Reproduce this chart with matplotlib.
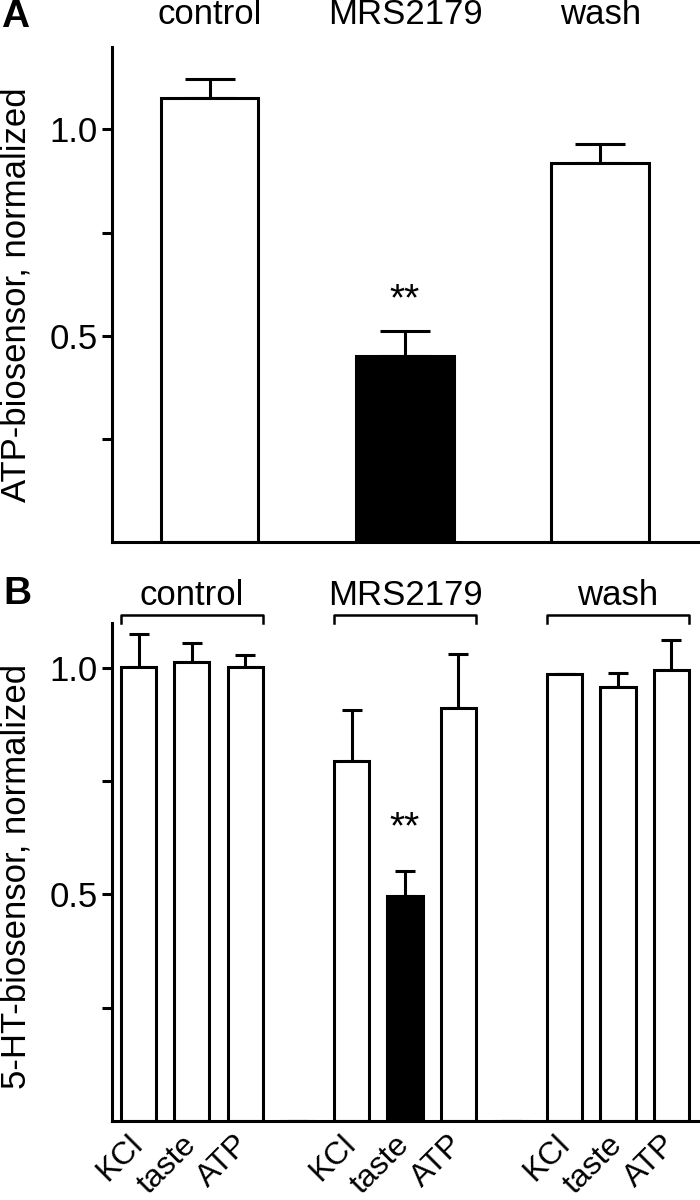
import matplotlib
matplotlib.use("Agg")
import matplotlib.pyplot as plt
from matplotlib.ticker import FixedLocator
import numpy as np

plt.rcParams['font.family'] = ['Liberation Sans', 'DejaVu Sans']

# ---- Panel A data ----
a_groups = ["control", "MRS2179", "wash"]
a_values = [1.077, 0.452, 0.919]
a_errors = [0.045, 0.060, 0.045]
a_colors = ["white", "black", "white"]

# ---- Panel B data ----
b_groups = ["control", "MRS2179", "wash"]
b_labels = ["KCl", "taste", "ATP", "", "KCl", "taste", "ATP", "", "KCl", "taste", "ATP"]
b_values = [1.002, 1.013, 1.002, 0.0, 0.795, 0.496, 0.912, 0.0, 0.987, 0.958, 0.996]
b_errors = [0.073, 0.042, 0.027, 0.0, 0.112, 0.055, 0.119, 0.0, 0.0, 0.031, 0.066]
b_colors = ["white", "white", "white", "white", "white", "black", "white", "white",
            "white", "white", "white"]
b_group_members = [[0, 1, 2], [4, 5, 6], [8, 9, 10]]

FS = 25
LW = 2.2

fig = plt.figure(figsize=(7, 12), dpi=100)
axA = fig.add_axes([0.16, 0.548, 0.837, 0.413])
axB = fig.add_axes([0.16, 0.066, 0.837, 0.415])

for ax in (axA, axB):
    for s in ("top", "right"):
        ax.spines[s].set_visible(False)
    for s in ("left", "bottom"):
        ax.spines[s].set_linewidth(LW)
    ax.tick_params(axis="y", which="both", direction="out", length=7, width=LW,
                   labelsize=FS, pad=3)

# ---- Panel A ----
xa = np.arange(len(a_values))
axA.bar(xa, a_values, width=0.5, color=a_colors, edgecolor="black", linewidth=LW, zorder=2)
axA.errorbar(xa, a_values, yerr=[np.zeros(len(a_errors)), a_errors], fmt="none",
             ecolor="black", elinewidth=LW, capsize=18, capthick=LW, zorder=1)
axA.set_xlim(-0.5, 2.5)
axA.set_ylim(0, 1.2)
axA.set_xticks([])
axA.yaxis.set_major_locator(FixedLocator([0.5, 1.0]))
axA.yaxis.set_minor_locator(FixedLocator([0.25, 0.75]))
axA.set_yticklabels(["0.5", "1.0"])
axA.set_ylabel("ATP-biosensor, normalized", fontsize=FS)
axA.yaxis.set_label_coords(-0.135, 0.5)
for i, g in enumerate(a_groups):
    axA.text(xa[i], 1.065, g, transform=axA.get_xaxis_transform(), ha="center",
             va="center", fontsize=FS)
axA.text(xa[1], a_values[1] + a_errors[1] + 0.075, "**", ha="center", va="center",
         fontsize=28)

# ---- Panel B ----
xb = np.arange(len(b_values))
axB.bar(xb, b_values, width=0.66, color=b_colors, edgecolor="black", linewidth=LW, zorder=2)
axB.errorbar(xb, b_values, yerr=[np.zeros(len(b_errors)), b_errors], fmt="none",
             ecolor="black", elinewidth=LW, capsize=7.5, capthick=LW, zorder=1)
axB.set_xlim(-0.5, 10.5)
axB.set_ylim(0, 1.1)
tick_pos = [i for i, l in enumerate(b_labels) if l]
axB.set_xticks(tick_pos)
axB.set_xticklabels([b_labels[i] for i in tick_pos], rotation=45, ha="right",
                    va="center", rotation_mode="anchor", fontsize=23)
axB.tick_params(axis="x", length=0, pad=14)
axB.yaxis.set_major_locator(FixedLocator([0.5, 1.0]))
axB.yaxis.set_minor_locator(FixedLocator([0.25, 0.75]))
axB.set_yticklabels(["0.5", "1.0"])
axB.set_ylabel("5-HT-biosensor, normalized", fontsize=FS)
axB.yaxis.set_label_coords(-0.135, 0.49)
for g, members in zip(b_groups, b_group_members):
    x0 = members[0] - 0.33
    x1 = members[-1] + 0.33
    axB.plot([x0, x0, x1, x1], [1.10, 1.118, 1.118, 1.10], color="black",
             linewidth=1.8, clip_on=False)
    axB.text(members[1], 1.16, g, ha="center", va="center", fontsize=FS)
axB.text(xb[5], b_values[5] + b_errors[5] + 0.095, "**", ha="center", va="center",
         fontsize=28)

fig.text(0.002, 1 - 17 / 1200, "A", fontsize=28, fontweight="bold", ha="left", va="center")
fig.text(0.005, 1 - 594 / 1200, "B", fontsize=28, fontweight="bold", ha="left", va="center")

fig.savefig("out.png", dpi=100)
